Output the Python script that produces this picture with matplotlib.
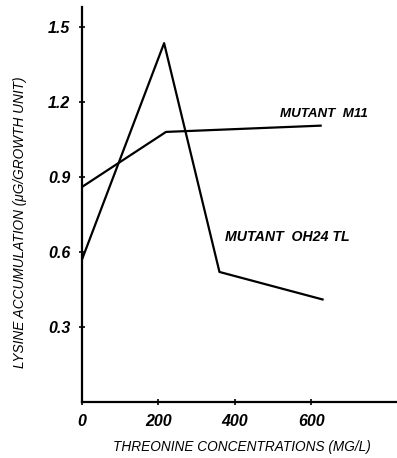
import matplotlib.pyplot as plt

# threonine concentration (mg/l) vs lysine accumulation
x_m11 = [0, 220, 625]
y_m11 = [0.86, 1.08, 1.105]
x_oh24 = [0, 215, 360, 630]
y_oh24 = [0.57, 1.435, 0.52, 0.41]

xticks = [0, 200, 400, 600]
yticks = [0.3, 0.6, 0.9, 1.2, 1.5]

fam = ['Liberation Sans', 'DejaVu Sans']

fig = plt.figure(figsize=(3.97, 4.58), dpi=100)
ax = fig.add_axes([0.2066, 0.1223, 0.7934, 0.8627])

ax.plot(x_m11, y_m11, color='black', lw=1.6)
ax.plot(x_oh24, y_oh24, color='black', lw=1.6)

ax.set_xlim(0, 825)
ax.set_ylim(0, 1.58)
ax.spines['top'].set_visible(False)
ax.spines['right'].set_visible(False)
ax.spines['left'].set_linewidth(1.6)
ax.spines['bottom'].set_linewidth(1.6)

ax.set_xticks(xticks)
ax.set_xticklabels([str(v) for v in xticks], family=fam, style='italic',
                   fontsize=11.5, fontweight='bold')
ax.set_yticks(yticks)
ax.set_yticklabels([f'{v:.1f}' for v in yticks], family=fam, style='italic',
                   fontsize=11.5, fontweight='bold')
ax.tick_params(direction='inout', length=5, width=1.2, pad=6)

fig.text(0.61, 0.024, 'THREONINE CONCENTRATIONS (MG/L)', family=fam,
         style='italic', fontsize=9.8, ha='center', va='center')
fig.text(0.05, 0.515, 'LYSINE ACCUMULATION (μG/GROWTH UNIT)', family=fam,
         style='italic', fontsize=9.8, ha='center', va='center', rotation=90)

ax.text(518, 1.15, 'MUTANT  M11', family=fam, style='italic', fontweight='bold',
        fontsize=9.6, va='center')
ax.text(374, 0.66, 'MUTANT  OH24 TL', family=fam, style='italic', fontweight='bold',
        fontsize=10.2, va='center')

fig.savefig('out.png', dpi=100)
